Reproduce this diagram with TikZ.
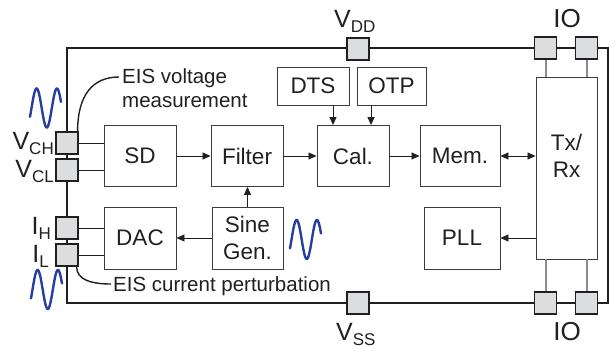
\documentclass[tikz,border=0pt]{standalone}
\usepackage{fontspec}
\setmainfont{Liberation Sans}
\usetikzlibrary{arrows.meta}
\definecolor{ink}{HTML}{231F20}
\definecolor{boxline}{HTML}{3C3C3C}
\definecolor{padfill}{HTML}{DCDDDF}
\definecolor{iolink}{HTML}{8C8C8C}
\definecolor{wavecol}{RGB}{38,62,160}
\newcommand{\sinewave}[2]{\draw[wave] plot[domain=-0.15:2.9,samples=80,smooth] ({#1+31*(\x+0.15)/3.05},{#2-19.5*sin(\x*180)});}
\newcommand{\subtxt}[1]{\raisebox{-4.5pt}{\fontsize{17}{17}\selectfont #1}}
\begin{document}
\begin{tikzpicture}[x=1pt,y=-1pt,
  blk/.style={draw=boxline, line width=0.9pt, minimum width=72pt, minimum height=61pt, inner sep=0pt, font=\fontsize{22.5}{27}\selectfont, text=ink, align=center},
  pad/.style={draw=ink, fill=padfill, line width=1.2pt, minimum size=22pt, inner sep=0pt},
  arr/.style={draw=ink, line width=0.8pt, -{Triangle[length=8pt,width=7pt]}},
  darr/.style={draw=ink, line width=0.8pt, {Triangle[length=8pt,width=7pt]}-{Triangle[length=8pt,width=7pt]}},
  wire/.style={draw=ink, line width=0.8pt},
  iow/.style={draw=iolink, line width=2pt},
  border/.style={draw=ink, line width=2.4pt},
  lead/.style={draw=ink, line width=1.4pt},
  wave/.style={draw=wavecol, line width=2.4pt, line cap=round},
  pinlbl/.style={inner sep=0pt, text=ink, font=\fontsize{25}{25}\selectfont},
  note/.style={inner sep=0pt, text=ink, font=\fontsize{20.5}{24}\selectfont}]
\useasboundingbox (0,0) rectangle (616,355);
% outer border
\draw[border] (67,48) rectangle (608,303);
% blocks
\node[blk] (SD) at (140,156) {SD};
\node[blk] (Filter) at (247,156) {Filter};
\node[blk] (Cal) at (353,156) {Cal.};
\node[blk, minimum width=80pt] (Mem) at (460,156) {Mem.};
\node[blk, minimum width=61pt, minimum height=182pt] (Tx) at (566.5,168) {};
\node[blk, draw=none, minimum width=0pt, minimum height=0pt] (TxLbl) at (566.5,156) {Tx/\\Rx};
\node[blk, minimum height=38pt] (DTS) at (313,86) {DTS};
\node[blk, minimum width=69pt, minimum height=38pt] (OTP) at (391.5,86) {OTP};
\node[blk, minimum height=62pt] (DAC) at (140,238) {DAC};
\node[blk, minimum width=71pt, minimum height=62pt] (Sine) at (247.5,238) {Sine\\Gen.};
\node[blk, minimum width=76pt, minimum height=62pt] (PLL) at (462,238) {PLL};
% pads
\node[pad] (pCH) at (67,143) {};
\node[pad] (pCL) at (67,170) {};
\node[pad] (pIH) at (67,228) {};
\node[pad] (pIL) at (67,255) {};
\node[pad] (pVDD) at (358,49) {};
\node[pad] (pVSS) at (358,303) {};
\node[pad] (pIO1) at (545.5,48) {};
\node[pad] (pIO2) at (586.5,48) {};
\node[pad] (pIO3) at (545.5,303) {};
\node[pad] (pIO4) at (586.5,303) {};
% pad wires
\draw[wire] (pCH.east) -- (pCH.east -| SD.west);
\draw[wire] (pCL.east) -- (pCL.east -| SD.west);
\draw[wire] (pIH.east) -- (pIH.east -| DAC.west);
\draw[wire] (pIL.east) -- (pIL.east -| DAC.west);
\draw[iow] (pIO1.south) -- (pIO1.south |- Tx.north);
\draw[iow] (pIO2.south) -- (pIO2.south |- Tx.north);
\draw[iow] (pIO3.north) -- (pIO3.north |- Tx.south);
\draw[iow] (pIO4.north) -- (pIO4.north |- Tx.south);
% arrows
\draw[arr] (SD) -- (Filter);
\draw[arr] (Filter) -- (Cal);
\draw[arr] (Cal) -- (Mem);
\draw[darr] (Mem.east) -- (Mem.east -| Tx.west);
\draw[arr] (Sine.north) -- (Sine.north |- Filter.south);
\draw[arr] (Sine) -- (DAC);
\draw[arr] (Tx.west |- PLL.east) -- (PLL.east);
\coordinate (dtsx) at (333,0);
\coordinate (otpx) at (371,0);
\draw[arr] (DTS.south -| dtsx) -- (Cal.north -| dtsx);
\draw[arr] (OTP.south -| otpx) -- (Cal.north -| otpx);
% pin labels
\node[pinlbl, anchor=base east] (lCH) at (54,150) {V\subtxt{CH}};
\node[pinlbl, anchor=base east] (lCL) at (54,178) {V\subtxt{CL}};
\node[pinlbl, anchor=base east] (lIH) at (51,235) {I\subtxt{H}};
\node[pinlbl, anchor=base east] (lIL) at (49,263) {I\subtxt{L}};
\node[pinlbl, anchor=base west] (lVDD) at (334,28) {V\subtxt{DD}};
\node[pinlbl, anchor=base west] (lVSS) at (336,341) {V\subtxt{SS}};
\node[pinlbl, font=\fontsize{26}{26}\selectfont, anchor=base] (lIO1) at (567,28) {IO};
\node[pinlbl, font=\fontsize{26}{26}\selectfont, anchor=base] (lIO2) at (567,341) {IO};
% leader lines and notes
\coordinate (vEnd) at (119,77);
\coordinate (iEnd) at (111,284);
\draw[lead] ([xshift=-1pt]pCH.north east) .. controls +(0,-38) and +(-25,0) .. (vEnd);
\draw[lead] ([xshift=-2pt]pIL.south east) .. controls +(0,14) and +(-18,0) .. (iEnd);
\node[note, anchor=base west] (nV1) at (122,84) {EIS voltage};
\node[note, anchor=base west] (nV2) at (122,108) {measurement};
\node[note, anchor=base west] (nI) at (113,292) {EIS current perturbation};
% sine waves
\sinewave{30}{108}
\sinewave{31}{289.5}
\sinewave{290}{239.5}
\end{tikzpicture}
\end{document}
